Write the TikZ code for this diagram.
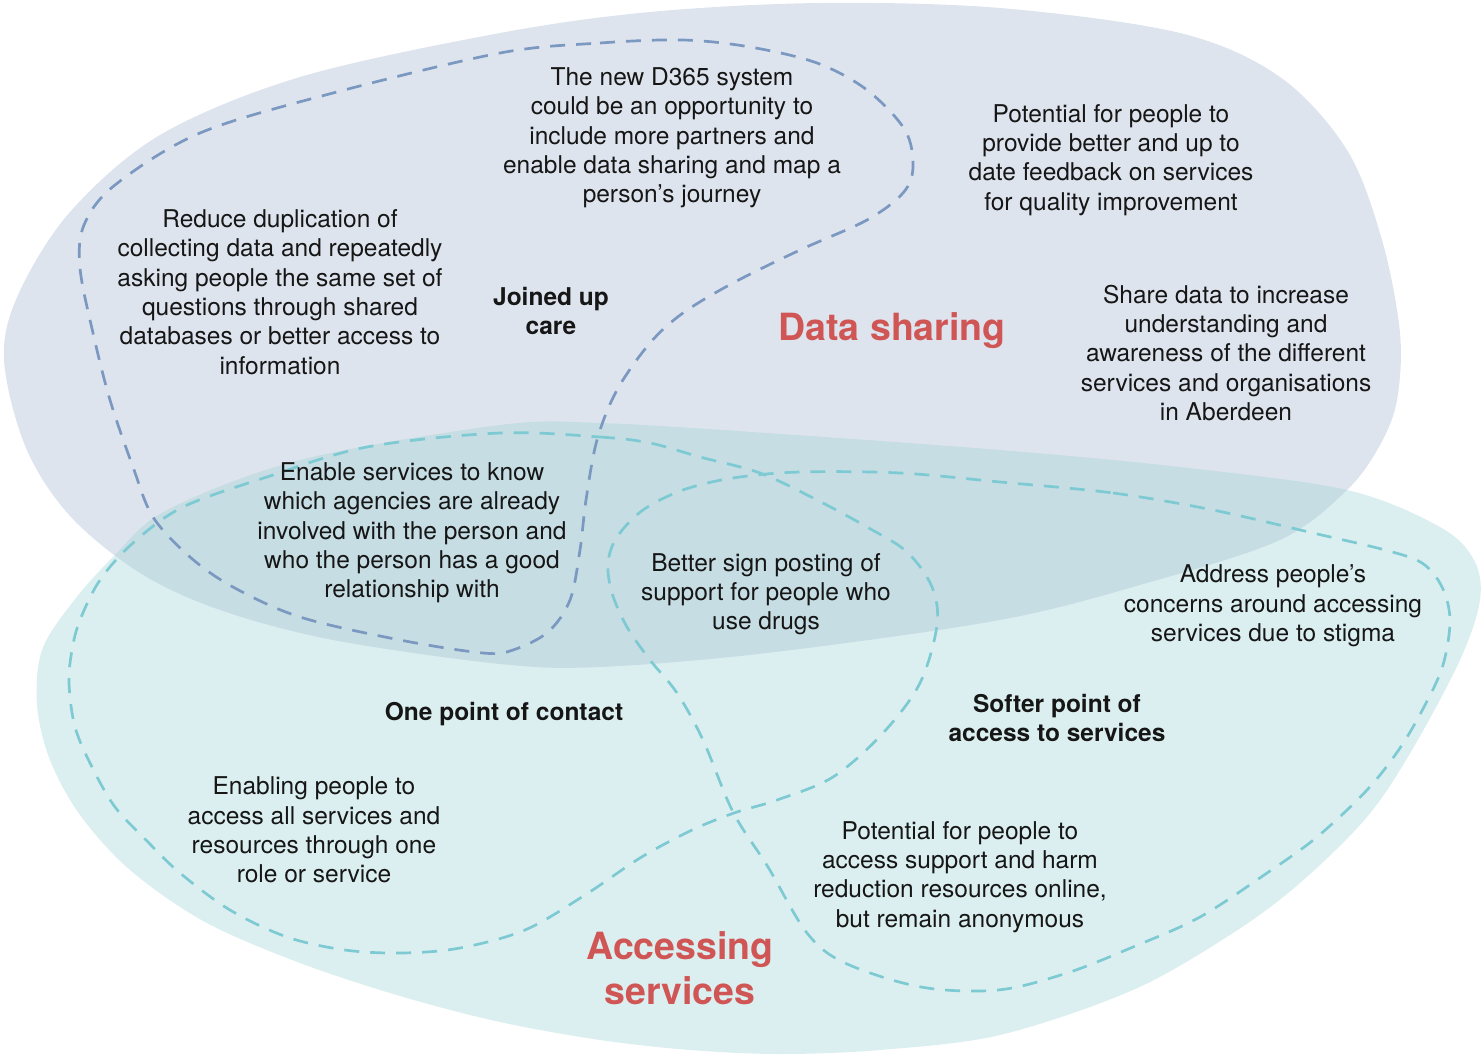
\documentclass[tikz,border=0pt]{standalone}
\usepackage{fontspec}
\setmainfont{TeX Gyre Heros}
\definecolor{topfill}{RGB}{222,228,238}
\definecolor{botfill}{RGB}{155,209,212}
\definecolor{bluedash}{RGB}{122,152,192}
\definecolor{tealdash}{RGB}{125,202,211}
\definecolor{titlered}{RGB}{208,86,86}
\definecolor{txt}{RGB}{22,22,22}
\begin{document}
\begin{tikzpicture}[x=1pt,y=-1pt,
  bodytext/.style={font=\fontsize{24.5}{29.3}\selectfont, text=txt, align=center, inner sep=0pt},
  boldtext/.style={font=\fontsize{24.5}{29.3}\selectfont\bfseries, text=txt, align=center, inner sep=0pt},
  titletext/.style={font=\fontsize{37.5}{45}\selectfont\bfseries, text=titlered, align=center, inner sep=0pt},
  bluedashed/.style={draw=bluedash, line width=2.7pt, dash pattern=on 15pt off 11pt},
  tealdashed/.style={draw=tealdash, line width=2.7pt, dash pattern=on 15pt off 11pt}]
\useasboundingbox (0,0) rectangle (1483,1057);
% Data sharing blob
\fill[topfill] plot[smooth cycle, tension=0.55] coordinates {
 (4,360) (26,448) (70,516) (140,573) (220,610) (333,640) (500,664) (600,667)
 (767,653) (1000,620) (1147,583) (1280,540) (1347,490) (1380,445) (1397,400)
 (1400,333) (1382,240) (1347,150) (1280,77) (1180,33) (1000,8) (820,3) (650,12)
 (500,33) (300,77) (160,135) (70,212) (18,295)};
% Accessing services blob
\fill[botfill, fill opacity=0.35] plot[smooth cycle, tension=0.55] coordinates {
 (500,425) (600,423) (767,433) (1000,450) (1180,467) (1347,490) (1440,527)
 (1474,560) (1480,600) (1460,660) (1412,750) (1367,817) (1300,883) (1233,933)
 (1133,990) (1000,1035) (880,1050) (780,1054) (690,1050) (600,1040) (500,1022)
 (400,996) (300,963) (205,922) (130,870) (80,815) (50,760) (37,705) (42,650)
 (72,603) (113,557) (167,510) (300,460)};
% Joined up care loop
\draw[bluedashed] plot[smooth cycle, tension=0.55] coordinates {
 (500,53) (600,43) (683,40) (750,47) (817,63) (867,90) (905,130) (913,167)
 (903,193) (867,220) (800,250) (733,283) (683,313) (650,343) (617,390) (597,440)
 (586,500) (580,550) (570,600) (548,632) (513,650) (483,653) (400,640) (300,617)
 (233,587) (190,557) (153,517) (133,467) (110,400) (93,333) (80,268) (84,225)
 (115,185) (200,133) (333,93)};
% One point of contact loop
\draw[tealdashed] plot[smooth cycle, tension=0.55] coordinates {
 (500,433) (600,437) (650,443) (700,457) (760,473) (817,500) (867,527) (907,552)
 (932,587) (937,625) (920,683) (883,733) (833,777) (777,800) (734,813) (690,831)
 (640,858) (585,895) (525,930) (460,948) (402,953) (345,950) (287,937) (230,910)
 (180,873) (146,840) (115,807) (92,767) (75,727) (69,683) (72,650) (80,620)
 (100,580) (133,543) (183,507) (267,477) (367,447)};
% Softer point of access loop
\draw[tealdashed] plot[smooth cycle, tension=0.55] coordinates {
 (1000,482) (1113,493) (1213,510) (1313,533) (1385,550) (1422,563) (1442,587)
 (1450,620) (1443,665) (1425,705) (1400,748) (1367,790) (1317,837) (1267,873)
 (1200,917) (1133,947) (1067,973) (998,990) (921,987) (845,963) (807,933)
 (768,867) (733,812) (703,740) (677,693) (650,660) (627,627) (612,593) (608,563)
 (617,537) (643,510) (683,490) (733,478) (800,472) (900,473)};
% texts
\node[bodytext] (d365) at (672,138) {The new D365 system\\could be an opportunity to\\include more partners and\\enable data sharing and map a\\person’s journey};
\node[bodytext] (feedback) at (1111,160) {Potential for people to\\provide better and up to\\date feedback on services\\for quality improvement};
\node[bodytext] (dup) at (280,292) {Reduce duplication of\\collecting data and repeatedly\\asking people the same set of\\questions through shared\\databases or better access to\\information};
\node[boldtext] (joined) at (551,311) {Joined up\\care};
\node[titletext] (datasharing) at (892,331) {Data sharing};
\node[bodytext] (share) at (1226,353) {Share data to increase\\understanding and\\awareness of the different\\services and organisations\\in Aberdeen};
\node[bodytext] (enable) at (412,533) {Enable services to know\\which agencies are already\\involved with the person and\\who the person has a good\\relationship with};
\node[bodytext] (sign) at (766,594) {Better sign posting of\\support for people who\\use drugs};
\node[bodytext] (stigma) at (1273,606) {Address people’s\\concerns around accessing\\services due to stigma};
\node[boldtext] (onepoint) at (504,714) {One point of contact};
\node[boldtext] (softer) at (1057,718) {Softer point of\\access to services};
\node[bodytext] (enabling) at (314,830) {Enabling people to\\access all services and\\resources through one\\role or service};
\node[bodytext] (anon) at (960,877) {Potential for people to\\access support and harm\\reduction resources online,\\but remain anonymous};
\node[titletext] (accessing) at (680,968) {Accessing\\services};
\end{tikzpicture}
\end{document}
